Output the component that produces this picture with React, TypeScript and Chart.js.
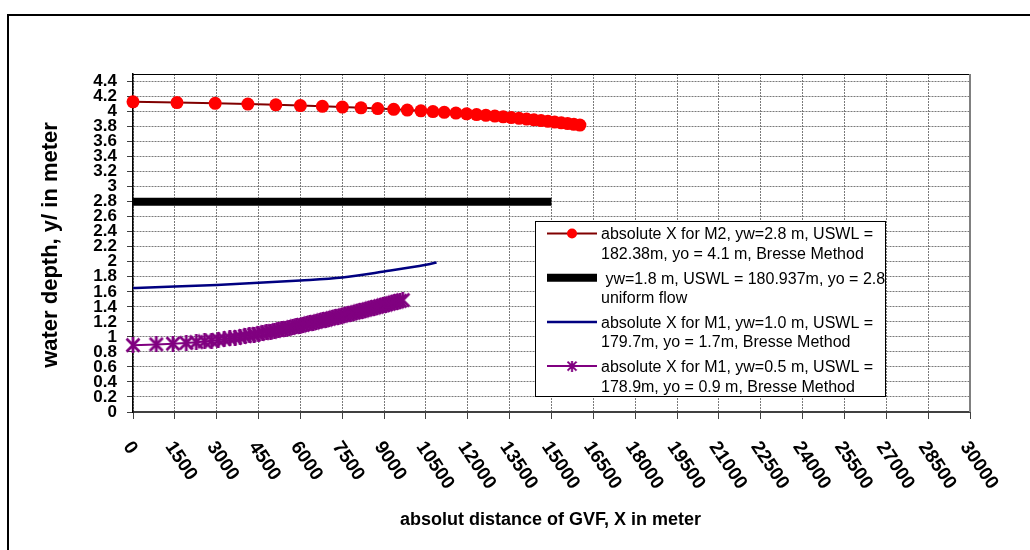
import React, { useEffect, useRef } from "react";
import { Chart, registerables } from "chart.js";

Chart.register(...registerables);

// M2 profile: yw = 2.8 m, USWL = 182.38 m, yo = 4.1 m (Bresse method)
const m2Distance = [
  0, 1576, 2946, 4117, 5120, 6000, 6788, 7504, 8173, 8771, 9344, 9831, 10321,
  10751, 11156, 11574, 11957, 12315, 12648, 12970, 13268, 13558, 13838, 14108,
  14370, 14625, 14873, 15114, 15349, 15578, 15801, 16018,
];
const m2Depth = [
  4.13, 4.12, 4.11, 4.1, 4.09, 4.08, 4.07, 4.06, 4.05, 4.04, 4.03, 4.02, 4.01,
  4.0, 3.99, 3.98, 3.97, 3.96, 3.95, 3.94, 3.93, 3.92, 3.91, 3.9, 3.89, 3.88,
  3.87, 3.86, 3.85, 3.84, 3.83, 3.82,
];

// Uniform flow: yw = 1.8 m, yo = 2.8 m
const uniformDistance = [0, 15000];
const uniformDepth = [2.8, 2.8];

// M1 profile: yw = 1.0 m, yo = 1.7 m
const m1aDistance = [0, 1500, 3000, 4500, 6000, 7500, 9000, 10500, 10880];
const m1aDepth = [1.65, 1.67, 1.69, 1.72, 1.75, 1.79, 1.87, 1.96, 1.99];

// M1 profile: yw = 0.5 m, yo = 0.9 m (Bresse method)
const m1bDistance = [
  0, 835, 1433, 1910, 2268, 2566, 2816, 3057, 3270, 3470, 3660, 3840, 4010,
  4175, 4335, 4490, 4640, 4785, 4930, 5070, 5205, 5340, 5470, 5600, 5725, 5850,
  5975, 6095, 6215, 6335, 6455, 6570, 6685, 6800, 6915, 7030, 7140, 7250, 7360,
  7470, 7580, 7690, 7800, 7910, 8015, 8120, 8225, 8330, 8435, 8540, 8645, 8750,
  8855, 8960, 9065, 9170, 9270, 9370, 9470, 9570, 9670,
];
const m1bDepth = [
  0.89, 0.9, 0.91, 0.92, 0.93, 0.94, 0.95, 0.96, 0.97, 0.98, 0.99, 1.0, 1.01,
  1.02, 1.03, 1.04, 1.05, 1.06, 1.07, 1.08, 1.09, 1.1, 1.11, 1.12, 1.13, 1.14,
  1.15, 1.16, 1.17, 1.18, 1.19, 1.2, 1.21, 1.22, 1.23, 1.24, 1.25, 1.26, 1.27,
  1.28, 1.29, 1.3, 1.31, 1.32, 1.33, 1.34, 1.35, 1.36, 1.37, 1.38, 1.39, 1.4,
  1.41, 1.42, 1.43, 1.44, 1.45, 1.46, 1.47, 1.48, 1.49,
];

const seriesLabels = [
  ["absolute X for M2, yw=2.8 m, USWL =", "182.38m, yo = 4.1 m, Bresse Method"],
  [" yw=1.8 m, USWL = 180.937m, yo = 2.8", "uniform flow"],
  ["absolute X for M1, yw=1.0 m, USWL =", "179.7m, yo = 1.7m, Bresse Method"],
  ["absolute X for M1, yw=0.5 m, USWL =", "178.9m, yo = 0.9 m, Bresse Method"],
];

const xTickValues = [
  0, 1500, 3000, 4500, 6000, 7500, 9000, 10500, 12000, 13500, 15000, 16500,
  18000, 19500, 21000, 22500, 24000, 25500, 27000, 28500, 30000,
];
const xTickLabels = [
  "0", "1500", "3000", "4500", "6000", "7500", "9000", "10500", "12000",
  "13500", "15000", "16500", "18000", "19500", "21000", "22500", "24000",
  "25500", "27000", "28500", "30000",
];
const yTickValues = [
  0, 0.2, 0.4, 0.6, 0.8, 1, 1.2, 1.4, 1.6, 1.8, 2, 2.2, 2.4, 2.6, 2.8, 3, 3.2,
  3.4, 3.6, 3.8, 4, 4.2, 4.4,
];
const yTickLabels = [
  "0", "0.2", "0.4", "0.6", "0.8", "1", "1.2", "1.4", "1.6", "1.8", "2", "2.2",
  "2.4", "2.6", "2.8", "3", "3.2", "3.4", "3.6", "3.8", "4", "4.2", "4.4",
];

const xTitle = "absolut distance of GVF, X in meter";
const yTitle = "water depth, y/ in meter";

const FONT = '"Liberation Sans", Arial, sans-serif';

const toPoints = (xs: number[], ys: number[]) =>
  xs.map((x, i) => ({ x, y: ys[i] }));

// asterisk marker (X with a vertical stroke)
function makeStar(size: number, color: string, lw: number) {
  const c = document.createElement("canvas");
  c.width = size;
  c.height = size;
  const g = c.getContext("2d")!;
  g.strokeStyle = color;
  g.lineWidth = lw;
  g.lineCap = "butt";
  const m = 1.5;
  g.beginPath();
  g.moveTo(m, m);
  g.lineTo(size - m, size - m);
  g.moveTo(size - m, m);
  g.lineTo(m, size - m);
  g.moveTo(size / 2, 0);
  g.lineTo(size / 2, size);
  g.stroke();
  return c;
}

export default function App() {
  const canvasRef = useRef<HTMLCanvasElement | null>(null);

  useEffect(() => {
    const canvas = canvasRef.current;
    if (!canvas) return;
    const star = makeStar(16, "#800080", 2.8);

    const framePlugin = {
      id: "frame",
      beforeDraw(chart: any) {
        const { ctx, width, height } = chart;
        ctx.save();
        ctx.fillStyle = "#ffffff";
        ctx.fillRect(0, 0, width, height);
        ctx.strokeStyle = "#000";
        ctx.lineWidth = 2;
        ctx.beginPath();
        ctx.moveTo(8, height + 5);
        ctx.lineTo(8, 15);
        ctx.lineTo(width + 5, 15);
        ctx.stroke();
        ctx.restore();
      },
      afterDraw(chart: any) {
        const { ctx, chartArea } = chart;
        const xs = chart.scales.x;
        ctx.save();

        // plot-area frame: top and right edges
        ctx.strokeStyle = "#000";
        ctx.lineWidth = 1;
        ctx.beginPath();
        ctx.moveTo(chartArea.left, Math.round(chartArea.top) + 0.5);
        ctx.lineTo(chartArea.right, Math.round(chartArea.top) + 0.5);
        ctx.stroke();
        ctx.strokeStyle = "#808080";
        ctx.lineWidth = 2;
        ctx.beginPath();
        ctx.moveTo(Math.round(chartArea.right), chartArea.top);
        ctx.lineTo(Math.round(chartArea.right), chartArea.bottom);
        ctx.stroke();

        // rotated x tick labels
        ctx.fillStyle = "#000";
        ctx.font = `bold 19px ${FONT}`;
        ctx.textAlign = "left";
        ctx.textBaseline = "alphabetic";
        xs.ticks.forEach((t: any, i: number) => {
          const px = xs.getPixelForValue(t.value);
          ctx.save();
          ctx.translate(px + 1, chartArea.bottom + 27);
          ctx.rotate((56 * Math.PI) / 180);
          ctx.fillText(xTickLabels[i], 0, 13.5);
          ctx.restore();
        });

        // axis titles
        ctx.textAlign = "center";
        ctx.textBaseline = "middle";
        ctx.font = `bold 18px ${FONT}`;
        ctx.fillText(xTitle, (chartArea.left + chartArea.right) / 2 - 1, 520);
        ctx.save();
        ctx.translate(51, 245);
        ctx.rotate(-Math.PI / 2);
        ctx.font = `bold 22px ${FONT}`;
        ctx.fillText(yTitle, 0, 0);
        ctx.restore();

        // legend
        const bx = 535.5, by = 221.5, bw = 350, bh = 175;
        ctx.fillStyle = "#fff";
        ctx.fillRect(bx, by, bw, bh);
        ctx.strokeStyle = "#000";
        ctx.lineWidth = 1;
        ctx.strokeRect(bx, by, bw, bh);
        const ds = chart.data.datasets;
        ctx.font = `16px ${FONT}`;
        ctx.textAlign = "left";
        ctx.textBaseline = "middle";
        seriesLabels.forEach((lines, i) => {
          const ty = 235 + 44.2 * i;
          const sy = ty - 1.5;
          const d = ds[i];
          ctx.strokeStyle = d.borderColor;
          ctx.lineWidth = d.borderWidth;
          ctx.lineCap = "butt";
          ctx.beginPath();
          ctx.moveTo(547, sy);
          ctx.lineTo(597, sy);
          ctx.stroke();
          if (d.pointStyle === "circle" && d.pointRadius > 0) {
            ctx.fillStyle = d.pointBackgroundColor;
            ctx.beginPath();
            ctx.arc(572, sy, 5, 0, Math.PI * 2);
            ctx.fill();
          } else if (d.pointStyle instanceof HTMLCanvasElement) {
            ctx.drawImage(d.pointStyle, 572 - 5.5, sy - 5.5, 11, 11);
          }
          ctx.fillStyle = "#000";
          lines.forEach((ln, k) => ctx.fillText(ln, 601, ty + 19.5 * k));
        });

        ctx.restore();
      },
    };

    const chart = new Chart(canvas, {
      type: "line",
      data: {
        datasets: [
          {
            label: seriesLabels[0].join(" "),
            data: toPoints(m2Distance, m2Depth),
            borderColor: "#800000",
            borderWidth: 2,
            pointStyle: "circle",
            pointRadius: 6.5,
            pointBorderWidth: 0,
            pointBackgroundColor: "#ff0000",
            pointBorderColor: "#ff0000",
            clip: false,
          },
          {
            label: seriesLabels[1].join(" "),
            data: toPoints(uniformDistance, uniformDepth),
            borderColor: "#000000",
            borderWidth: 8,
            borderCapStyle: "butt",
            pointRadius: 0,
            clip: false,
          },
          {
            label: seriesLabels[2].join(" "),
            data: toPoints(m1aDistance, m1aDepth),
            borderColor: "#000080",
            borderWidth: 2.5,
            pointRadius: 0,
            cubicInterpolationMode: "monotone",
            clip: false,
          },
          {
            label: seriesLabels[3].join(" "),
            data: toPoints(m1bDistance, m1bDepth),
            borderColor: "#800080",
            borderWidth: 2,
            pointStyle: star,
            pointRadius: 8,
            clip: false,
          },
        ],
      } as any,
      options: {
        animation: false,
        responsive: false,
        layout: { padding: { left: 0, top: 74, right: 60, bottom: 0 } },
        plugins: {
          legend: { display: false },
          tooltip: { enabled: false },
        },
        scales: {
          x: {
            type: "linear",
            min: 0,
            max: 30000,
            afterBuildTicks: (s: any) => {
              s.ticks = xTickValues.map((v) => ({ value: v }));
            },
            afterFit: (s: any) => {
              s.height = 138;
            },
            ticks: { display: false, autoSkip: false },
            grid: {
              color: "#7a7a7a",
              lineWidth: 1,
              tickLength: 7,
              tickColor: "#404040",
              tickWidth: 1,
            },
            border: { color: "#404040", width: 2, dash: [2, 1] },
          },
          y: {
            type: "linear",
            min: 0,
            max: 4.5,
            afterBuildTicks: (s: any) => {
              s.ticks = yTickValues.map((v) => ({ value: v }));
            },
            afterFit: (s: any) => {
              s.width = 133;
            },
            ticks: {
              autoSkip: false,
              padding: 10,
              color: "#000",
              font: { family: FONT, size: 17, weight: "bold" },
              callback: (_v: any, i: number) => yTickLabels[i],
            },
            grid: {
              color: "#7a7a7a",
              lineWidth: 1,
              tickLength: 6,
              tickColor: "#404040",
              tickWidth: 1,
            },
            border: { color: "#000", width: 1.5, dash: [2, 1] },
          },
        },
      } as any,
      plugins: [framePlugin],
    });

    return () => chart.destroy();
  }, []);

  return (
    <div
      style={{
        position: "fixed",
        left: 0,
        top: 0,
        width: 1030,
        height: 550,
        background: "#fff",
      }}
    >
      <canvas ref={canvasRef} width={1030} height={550} style={{ display: "block" }} />
    </div>
  );
}
